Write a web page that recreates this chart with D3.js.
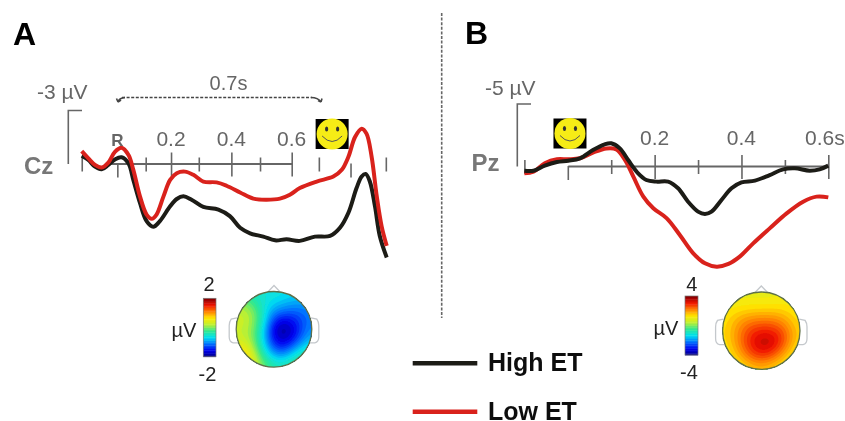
<!DOCTYPE html>
<html>
<head>
<meta charset="utf-8">
<script src="https://cdn.jsdelivr.net/npm/d3@7"></script>
<style>
  html, body { margin: 0; padding: 0; background: #fff; }
  svg { display: block; }
  text { font-family: "Liberation Sans", Arial, sans-serif; }
</style>
</head>
<body>
<svg id="chart" width="845" height="421"></svg>
<script>
// panel A, Cz (seconds, uV, negative is up)
const timeAHigh = [-0.096,-0.074,-0.052,-0.030,-0.008,0.014,0.036,0.059,0.075,0.097,0.119,0.141,0.163,0.197,0.219,0.241,0.268,0.307,0.357,0.395,0.429,0.462,0.506,0.545,0.583,0.627,0.677,0.727,0.760,0.788,0.815,0.832,0.845,0.859,0.876,0.892,0.915];
const voltAHigh = [-0.44,-0.20,0.18,0.33,0.08,-0.23,-0.35,0,0.93,2.23,3.26,3.58,3.26,2.42,2.01,1.86,2.05,2.46,2.61,2.98,3.64,3.95,4.14,4.35,4.29,4.38,4.14,4.10,3.64,2.79,1.39,0.74,0.59,1.02,2.42,4.10,5.32];
const timeALow = [-0.096,-0.074,-0.052,-0.030,-0.008,0.014,0.036,0.059,0.075,0.097,0.119,0.136,0.152,0.175,0.197,0.219,0.246,0.274,0.307,0.351,0.384,0.429,0.473,0.517,0.561,0.594,0.627,0.683,0.738,0.766,0.788,0.810,0.832,0.848,0.865,0.882,0.898,0.915];
const voltALow = [-0.70,-0.29,0.08,0.23,-0.05,-0.66,-0.89,-0.48,0.36,1.86,2.89,3.13,2.89,1.86,0.93,0.55,0.46,0.64,1.02,1.07,1.26,1.64,1.99,2.05,1.99,1.77,1.39,1.02,0.74,0.36,-0.38,-1.50,-1.97,-1.69,-0.38,1.86,3.54,4.66];
const ticksAMajor = [0.2, 0.4, 0.6];
const ticksAMinor = [-0.096, 0.116, 0.292, 0.495, 0.69, 0.912];
const ticksADown = [0.022, 0.795];

// panel B, Pz
const timeBHigh = [-0.1,-0.079,-0.053,-0.025,0.001,0.028,0.058,0.085,0.100,0.120,0.139,0.162,0.181,0.204,0.231,0.254,0.277,0.300,0.316,0.331,0.354,0.377,0.400,0.431,0.465,0.496,0.523,0.557,0.580,0.600];
const voltBHigh = [0.38,0.38,-0.03,-0.32,-0.43,-0.62,-1.29,-1.75,-1.83,-1.42,-0.48,0.59,1.13,1.26,1.26,1.80,2.88,3.68,3.87,3.68,2.74,1.80,1.32,1.18,0.73,0.27,0.19,0.38,0.27,-0.03];
const timeBLow = [-0.1,-0.079,-0.053,-0.025,0.001,0.028,0.058,0.089,0.112,0.132,0.151,0.174,0.197,0.228,0.258,0.289,0.316,0.343,0.370,0.396,0.427,0.465,0.504,0.542,0.573,0.600];
const voltBLow = [0.59,0.46,-0.22,-0.54,-0.54,-0.62,-1.08,-1.42,-1.34,-0.48,0.86,2.47,3.41,4.22,5.56,7.04,7.85,8.12,7.90,7.31,6.24,5.03,3.82,2.88,2.47,2.53];
const ticksBMajor = [0.2, 0.4, 0.6];
const ticksBMinor = [-0.1, 0.1, 0.3, 0.5];
const ticksBDown = [0];

// scalp maps on a 9x9 grid
const mapA = [
  -0.3,-0.4,-0.5,-0.5,-0.5,-0.5,-0.6,-0.6,-0.6,
   0.1, 0.0,-0.3,-0.5,-0.6,-0.7,-0.8,-0.8,-0.8,
   0.3, 0.3, 0.1,-0.6,-0.9,-1.0,-1.1,-1.1,-1.0,
   0.4, 0.4, 0.1,-0.5,-1.4,-1.6,-1.5,-1.2,-1.0,
   0.3, 0.3, 0.0,-0.7,-1.8,-2.0,-1.7,-1.2,-0.9,
   0.3, 0.3, 0.0,-0.8,-1.6,-1.8,-1.6,-1.1,-0.7,
   0.7, 0.6, 0.1,-0.6,-1.3,-1.5,-1.0,-0.6,-0.4,
   1.1, 0.9, 0.3,-0.3,-0.7,-0.8,-0.4,-0.2,-0.1,
   1.2, 1.0, 0.4, 0.0,-0.2,-0.3,-0.1, 0.0, 0.0
];
const mapB = [
  1.1,1.1,1.1,1.1,1.1,1.1,1.1,1.1,1.1,
  1.2,1.2,1.2,1.2,1.2,1.2,1.3,1.3,1.3,
  1.3,1.5,1.6,1.7,1.7,1.7,1.7,1.5,1.3,
  1.4,1.8,2.2,2.4,2.5,2.5,2.3,1.9,1.4,
  1.4,1.9,2.5,3.0,3.1,3.1,2.9,2.2,1.5,
  1.4,1.9,2.6,3.3,3.8,3.8,3.2,2.3,1.4,
  1.2,1.7,2.4,3.1,3.5,3.4,2.6,1.8,1.2,
  1.1,1.4,1.9,2.5,2.7,2.4,1.9,1.4,1.1,
  1.0,1.1,1.3,1.5,1.6,1.5,1.3,1.1,1.0
];

const seriesNames = ["High ET", "Low ET"];
const seriesColors = ["#1c1a17", "#d9231c"];
const jetColors = ["#00007f", "#0000f0", "#0070ff", "#00e0f0", "#30e890", "#c0f030", "#ffe800", "#ff8000", "#f01000", "#800000"];

const svg = d3.select("#chart");
const root = svg.append("g");
svg.append("defs").append("filter").attr("id", "soft")
  .attr("x", 0).attr("y", 0).attr("width", 1).attr("height", 1)
  .attr("filterUnits", "objectBoundingBox")
  .append("feGaussianBlur").attr("stdDeviation", 0.45);
root.append("rect").attr("width", 845).attr("height", 421).attr("fill", "#fff");
root.attr("filter", "url(#soft)");

const gray = "#666";

function label(x, y, str, size, opts) {
  opts = opts || {};
  return root.append("text")
    .attr("x", x).attr("y", y)
    .attr("font-size", size)
    .attr("font-weight", opts.bold ? 700 : 400)
    .attr("fill", opts.fill || "#666")
    .attr("text-anchor", opts.anchor || "start")
    .text(str);
}

function smiley(cx, cy) {
  const g = root.append("g").attr("transform", `translate(${cx},${cy})`);
  g.append("rect").attr("x", -16.5).attr("y", -15).attr("width", 33).attr("height", 30).attr("fill", "#000");
  g.append("circle").attr("r", 15.5).attr("fill", "#f6ec14");
  g.selectAll(".eye").data([-5.5, 5.5]).enter().append("ellipse")
    .attr("cx", d => d).attr("cy", -5).attr("rx", 1.6).attr("ry", 2.6).attr("fill", "#333");
  g.append("path").attr("d", "M-10,2 Q0,13 10,2").attr("fill", "none").attr("stroke", "#555").attr("stroke-width", 1);
}

// time axis with ticks reaching above and below it
function timeAxis(x, y0, major, minor, down) {
  const axis = root.append("g").attr("transform", `translate(0,${y0})`);
  const all = major.concat(minor, down);
  axis.call(d3.axisBottom(x).tickValues(all).tickSize(0).tickFormat(""));
  axis.select(".domain").attr("stroke", gray).attr("stroke-width", 2);
  axis.selectAll(".tick line")
    .attr("stroke", gray).attr("stroke-width", 1.6)
    .attr("y1", d => major.includes(d) ? -11 : down.includes(d) ? 0 : -6)
    .attr("y2", d => major.includes(d) ? 13 : down.includes(d) ? 14 : 8);
}

function erp(x, y, times, volts, color) {
  const line = d3.line().x((d, i) => x(times[i])).y(d => y(d)).curve(d3.curveCatmullRom.alpha(0.5));
  root.append("path").datum(volts)
    .attr("d", line).attr("fill", "none")
    .attr("stroke", color).attr("stroke-width", 4)
    .attr("stroke-linejoin", "round");
}

function scaleBar(y, top, x0, x1) {
  root.append("path")
    .attr("d", `M${x1},${y(top)}H${x0}V${y(0) + 0.5}`)
    .attr("fill", "none").attr("stroke", gray).attr("stroke-width", 1.6);
}

// bilinear upsample of the read grid, then a light blur so the contours are round
function upsample(grid, n, k) {
  const w = (n - 1) * k + 1;
  const data = new Float64Array(w * w);
  for (let j = 0; j < w; j++) {
    for (let i = 0; i < w; i++) {
      const gx = i / k, gy = j / k;
      const x0 = Math.min(Math.floor(gx), n - 2), y0 = Math.min(Math.floor(gy), n - 2);
      const fx = gx - x0, fy = gy - y0;
      const a = grid[y0 * n + x0], b = grid[y0 * n + x0 + 1];
      const c = grid[(y0 + 1) * n + x0], d = grid[(y0 + 1) * n + x0 + 1];
      data[j * w + i] = (a * (1 - fx) + b * fx) * (1 - fy) + (c * (1 - fx) + d * fx) * fy;
    }
  }
  if (d3.blur2) d3.blur2({ data: data, width: w, height: w }, k * 0.6);
  return { data: data, width: w };
}

function jet(limit) {
  return d3.scaleLinear()
    .domain(jetColors.map((c, i) => -limit + 2 * limit * i / (jetColors.length - 1)))
    .range(jetColors).clamp(true);
}

function scalp(id, cx, cy, r, grid, limit, step) {
  const color = jet(limit);
  const g = root.append("g").attr("transform", `translate(${cx},${cy})`);
  // ears and nose
  const ear = "#c4c8cc";
  [-1, 1].forEach(s => {
    g.append("path")
      .attr("d", `M${s * r * 0.98},${-r * 0.3} L${s * (r + 5)},${-r * 0.27} Q${s * (r + 7)},${-r * 0.2} ${s * (r + 7)},${-r * 0.1} L${s * (r + 7)},${r * 0.2} Q${s * (r + 7)},${r * 0.34} ${s * (r + 3)},${r * 0.36} L${s * r * 0.95},${r * 0.36}`)
      .attr("fill", "#fff").attr("stroke", ear).attr("stroke-width", 1.3);
  });
  g.append("path")
    .attr("d", `M${-r * 0.17},${-r * 0.98} L0,${-r - 6} L${r * 0.17},${-r * 0.98}`)
    .attr("fill", "#fff").attr("stroke", ear).attr("stroke-width", 1.3);

  const fine = upsample(grid, 9, 8);
  const thresholds = d3.range(-limit * 2, limit * 1.01, step);
  const contours = d3.contours().size([fine.width, fine.width]).thresholds(thresholds)(fine.data);
  const s = 2 * r / fine.width;
  root.select("defs");
  svg.select("defs").append("clipPath").attr("id", id)
    .append("circle").attr("r", r);
  const map = g.append("g").attr("clip-path", `url(#${id})`);
  map.append("circle").attr("r", r).attr("fill", color(d3.min(fine.data)));
  map.append("g").attr("transform", `translate(${-r},${-r}) scale(${s})`)
    .selectAll("path").data(contours).enter().append("path")
    .attr("d", d3.geoPath())
    .attr("fill", d => color(d.value));
  g.append("circle").attr("r", r).attr("fill", "none").attr("stroke", "#5f7048").attr("stroke-width", 1.3);
}

function colorBar(x, yTop, w, h, limit) {
  const color = jet(limit);
  const steps = d3.range(-limit, limit, 2 * limit / 36);
  const y = d3.scaleLinear().domain([-limit, limit]).range([yTop + h, yTop]);
  root.append("g").selectAll("rect").data(steps).enter().append("rect")
    .attr("x", x).attr("width", w)
    .attr("y", d => y(d + 2 * limit / 36))
    .attr("height", h / 36 + 0.4)
    .attr("fill", d => color(d + limit / 36));
  root.append("rect").attr("x", x).attr("y", yTop).attr("width", w).attr("height", h)
    .attr("fill", "none").attr("stroke", "#777").attr("stroke-width", 0.7);
}

// ---- panel A ----
const xA = d3.scaleLinear().domain([0, 0.6]).range([110.7, 291.7]);
const yA = d3.scaleLinear().domain([-3, 0]).range([110.5, 163.5]);
scaleBar(yA, -3, 68.3, 82);
timeAxis(xA, yA(0), ticksAMajor, ticksAMinor, ticksADown);
erp(xA, yA, timeAHigh, voltAHigh, seriesColors[0]);
erp(xA, yA, timeALow, voltALow, seriesColors[1]);
ticksAMajor.forEach(t => label(xA(t), 145.5, t.toFixed(1), 21, { anchor: "middle" }));
label(xA(ticksADown[0]), 145.5, "R", 17, { bold: true, anchor: "middle" });
label(24, 174, "Cz", 24, { bold: true, fill: "#777" });
label(37, 99, "-3 µV", 21, {});
label(228.5, 90, "0.7s", 20, { anchor: "middle" });
label(13, 45, "A", 32, { bold: true, fill: "#000" });
root.append("path").attr("d", "M122,97.5H312")
  .attr("fill", "none").attr("stroke", "#444").attr("stroke-width", 1.6).attr("stroke-dasharray", "3 1.6");
root.append("path").attr("d", "M118,102 Q119,98 125,97.5 M118,102 L116.5,98.5 M118,102 L121,100")
  .attr("fill", "none").attr("stroke", "#444").attr("stroke-width", 1.6);
root.append("path").attr("d", "M311,97.5 Q318,97.5 321,102 M321,102 L322,98.5 M321,102 L318,100.5")
  .attr("fill", "none").attr("stroke", "#444").attr("stroke-width", 1.6);
smiley(xA(0.734), 134);

// ---- panel B ----
const xB = d3.scaleLinear().domain([0, 0.6]).range([567.8, 828.3]);
const yB = d3.scaleLinear().domain([-5, 0]).range([104, 166]);
scaleBar(yB, -5, 517.3, 531);
timeAxis(xB, yB(0), ticksBMajor, ticksBMinor, ticksBDown);
erp(xB, yB, timeBLow, voltBLow, seriesColors[1]);
erp(xB, yB, timeBHigh, voltBHigh, seriesColors[0]);
label(xB(0.2), 145, "0.2", 21, { anchor: "middle" });
label(xB(0.4), 145, "0.4", 21, { anchor: "middle" });
label(805, 145, "0.6s", 21, {});
label(471.5, 170.5, "Pz", 24, { bold: true, fill: "#777" });
label(485, 95, "-5 µV", 21, {});
label(465, 44, "B", 32, { bold: true, fill: "#000" });
smiley(xB(0.005), 133.5);

// divider
root.append("line").attr("x1", 441.7).attr("x2", 441.7).attr("y1", 13).attr("y2", 318)
  .attr("stroke", "#666").attr("stroke-width", 1.6).attr("stroke-dasharray", "3 1.6");

// ---- scalp maps ----
colorBar(203.3, 298.3, 12.7, 58.4, 2);
label(209, 291, "2", 20, { anchor: "middle", fill: "#222" });
label(207.5, 381, "-2", 20, { anchor: "middle", fill: "#222" });
label(184, 337, "µV", 20, { anchor: "middle", fill: "#222" });
scalp("clipA", 274, 329.3, 37.8, mapA, 2, 0.1);

colorBar(685, 296, 13, 59, 4);
label(691.7, 291, "4", 20, { anchor: "middle", fill: "#222" });
label(689, 379, "-4", 20, { anchor: "middle", fill: "#222" });
label(666, 335, "µV", 20, { anchor: "middle", fill: "#222" });
scalp("clipB", 761.3, 330.7, 38.7, mapB, 4, 0.2);

// ---- legend ----
seriesNames.forEach((name, i) => {
  const yy = 363.3 + i * 48.4;
  root.append("line").attr("x1", 412.7).attr("x2", 477.3).attr("y1", yy).attr("y2", yy)
    .attr("stroke", seriesColors[i]).attr("stroke-width", 4.5);
  label(488, yy + 8, name, 25, { bold: true, fill: "#111" })
    .style("font-family", '"Liberation Sans Narrow", "Liberation Sans", sans-serif');
});
</script>
</body>
</html>
